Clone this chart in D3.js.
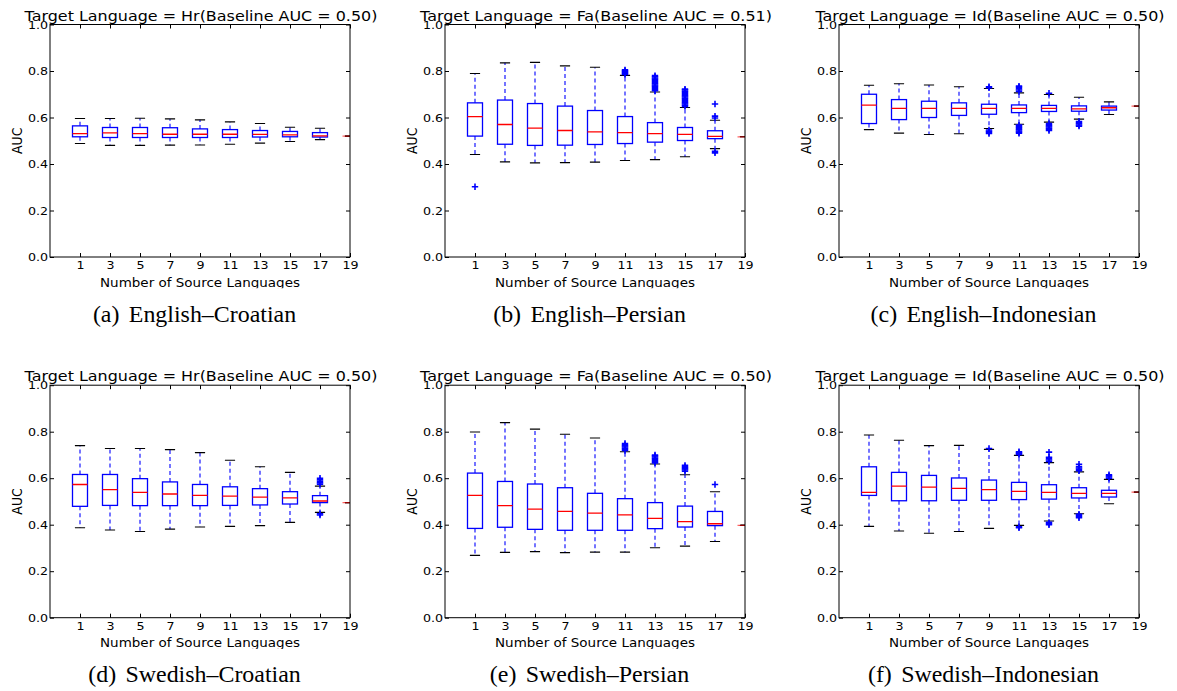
<!DOCTYPE html>
<html><head><meta charset="utf-8">
<script src="https://cdn.jsdelivr.net/npm/d3@7"></script>
<style>body{margin:0;background:#fff} svg{display:block}</style>
</head><body>
<svg id="chart" width="1177" height="691"></svg>
<script>
// ---- data ----
const positions = [1,2,3,4,5,6,7,8,9,10];
const tickLabels = ["1","3","5","7","9","11","13","15","17","19"];
const yTicks = [0,0.2,0.4,0.6,0.8,1.0];

// (a) English–Croatian
const aLo  = [0.488,0.480,0.480,0.481,0.482,0.485,0.490,0.497,0.505,0.520];
const aQ1  = [0.517,0.514,0.514,0.514,0.514,0.514,0.516,0.517,0.516,0.520];
const aMed = [0.531,0.534,0.531,0.528,0.528,0.528,0.527,0.525,0.521,0.520];
const aQ3  = [0.564,0.557,0.557,0.556,0.551,0.548,0.544,0.540,0.535,0.520];
const aHi  = [0.596,0.596,0.597,0.594,0.590,0.581,0.574,0.558,0.554,0.520];
const aFl  = [[],[],[],[],[],[],[],[],[],[]];

// (b) English–Persian
const bLo  = [0.441,0.409,0.405,0.406,0.408,0.415,0.419,0.431,0.466,0.517];
const bQ1  = [0.520,0.485,0.480,0.481,0.484,0.488,0.494,0.501,0.509,0.517];
const bMed = [0.604,0.570,0.554,0.544,0.538,0.535,0.531,0.527,0.519,0.517];
const bQ3  = [0.663,0.675,0.660,0.649,0.630,0.604,0.578,0.557,0.543,0.517];
const bHi  = [0.789,0.835,0.837,0.822,0.816,0.781,0.710,0.643,0.588,0.517];
const bFl  = [[0.302],[],[],[],[],
  [0.785,0.789,0.793,0.797,0.801,0.805],
  [0.715,0.720,0.725,0.730,0.735,0.740,0.745,0.750,0.755,0.760,0.765,0.770,0.775,0.780],
  [0.648,0.653,0.658,0.663,0.668,0.673,0.678,0.683,0.688,0.693,0.698,0.703,0.708,0.713,0.718,0.722],
  [0.598,0.606,0.658,0.455,0.448],[]];

// (c) English–Indonesian
const cLo  = [0.548,0.533,0.527,0.530,0.553,0.571,0.580,0.593,0.613,0.649];
const cQ1  = [0.574,0.591,0.600,0.609,0.614,0.621,0.626,0.627,0.632,0.649];
const cMed = [0.653,0.639,0.639,0.639,0.639,0.639,0.639,0.637,0.642,0.649];
const cQ3  = [0.700,0.677,0.670,0.663,0.657,0.654,0.652,0.650,0.649,0.649];
const cHi  = [0.739,0.745,0.740,0.732,0.725,0.706,0.699,0.687,0.667,0.649];
const cFl  = [[],[],[],[],
  [0.728,0.732,0.531,0.536,0.541,0.546],
  [0.712,0.718,0.724,0.730,0.735,0.532,0.537,0.542,0.547,0.552,0.557,0.562,0.567],
  [0.704,0.544,0.549,0.554,0.559,0.564,0.569,0.574],
  [0.563,0.568,0.573,0.578,0.583],[],[]];

// (d) Swedish–Croatian
const dLo  = [0.387,0.377,0.371,0.381,0.390,0.393,0.396,0.410,0.453,0.495];
const dQ1  = [0.479,0.483,0.482,0.482,0.482,0.483,0.485,0.489,0.495,0.495];
const dMed = [0.573,0.551,0.539,0.532,0.526,0.523,0.519,0.515,0.502,0.495];
const dQ3  = [0.616,0.616,0.598,0.584,0.573,0.563,0.555,0.542,0.525,0.495];
const dHi  = [0.740,0.728,0.728,0.723,0.710,0.677,0.649,0.625,0.566,0.495];
const dFl  = [[],[],[],[],[],[],[],[],[0.574,0.580,0.586,0.593,0.600,0.442,0.447],[]];

// (e) Swedish–Persian
const eLo  = [0.268,0.281,0.284,0.280,0.282,0.282,0.301,0.308,0.328,0.397];
const eQ1  = [0.384,0.389,0.380,0.376,0.376,0.376,0.383,0.390,0.396,0.397];
const eMed = [0.526,0.482,0.467,0.457,0.450,0.442,0.427,0.413,0.404,0.397];
const eQ3  = [0.622,0.586,0.575,0.559,0.535,0.512,0.495,0.480,0.457,0.397];
const eHi  = [0.799,0.839,0.811,0.789,0.773,0.714,0.661,0.615,0.542,0.397];
const eFl  = [[],[],[],[],[],
  [0.719,0.724,0.729,0.734,0.739,0.744,0.749],
  [0.666,0.671,0.676,0.681,0.686,0.691,0.696,0.700],
  [0.630,0.635,0.640,0.645,0.650,0.655],
  [0.573],[]];

// (f) Swedish–Indonesian
const fLo  = [0.393,0.373,0.363,0.371,0.384,0.397,0.416,0.447,0.490,0.540];
const fQ1  = [0.526,0.503,0.503,0.505,0.505,0.508,0.510,0.515,0.519,0.540];
const fMed = [0.539,0.566,0.562,0.556,0.551,0.543,0.539,0.535,0.535,0.540];
const fQ3  = [0.649,0.625,0.612,0.601,0.592,0.582,0.572,0.559,0.548,0.540];
const fHi  = [0.786,0.763,0.740,0.741,0.724,0.698,0.667,0.627,0.595,0.540];
const fFl  = [[],[],[],[],
  [0.728],
  [0.702,0.706,0.710,0.714,0.387,0.391],
  [0.672,0.678,0.684,0.690,0.712,0.400,0.405,0.410],
  [0.632,0.638,0.644,0.650,0.660,0.430,0.435,0.440,0.445],
  [0.600,0.605,0.610,0.615],[]];

const titleLangs = ["Hr","Fa","Id","Hr","Fa","Id"];
const baselines = ["0.50","0.51","0.50","0.50","0.50","0.50"];
const captionTags = ["(a)","(b)","(c)","(d)","(e)","(f)"];
const captionTexts = ["English\u2013Croatian","English\u2013Persian","English\u2013Indonesian",
                      "Swedish\u2013Croatian","Swedish\u2013Persian","Swedish\u2013Indonesian"];

const panelStats = [
  [aLo,aQ1,aMed,aQ3,aHi,aFl],[bLo,bQ1,bMed,bQ3,bHi,bFl],[cLo,cQ1,cMed,cQ3,cHi,cFl],
  [dLo,dQ1,dMed,dQ3,dHi,dFl],[eLo,eQ1,eMed,eQ3,eHi,eFl],[fLo,fQ1,fMed,fQ3,fHi,fFl]
];

// ---- layout ----
const lefts = [50,445,839];
const tops = [24.5,385.2];
const W = 300, H = 232.5;
const svg = d3.select("#chart");
const defs = svg.append("defs");
const SANS = "DejaVu Sans";

panelStats.forEach((st, p) => {
  const col = p % 3, row = Math.floor(p / 3);
  const L = lefts[col], T = tops[row], B = T + H, R = L + W;
  const cx = L + W / 2;
  const x = d3.scaleLinear().domain([0,10]).range([L,R]);
  const y = d3.scaleLinear().domain([0,1]).range([B,T]);
  const g = svg.append("g");

  const clipId = "clip" + p;
  defs.append("clipPath").attr("id", clipId).append("rect")
    .attr("x", L).attr("y", T).attr("width", W).attr("height", H);
  const xlClip = "xlclip" + p;
  defs.append("clipPath").attr("id", xlClip).append("rect")
    .attr("x", L - 20).attr("y", B + 14).attr("width", W + 40).attr("height", 17.3);

  // axes (ticks inward on all four sides)
  const ax = d3.axisBottom(x).tickValues(positions).tickFormat((d,i)=>tickLabels[i])
    .tickSizeInner(-4).tickSizeOuter(0).tickPadding(4.6);
  const gx = g.append("g").attr("transform", `translate(0,${B})`).call(ax);
  const axT = d3.axisTop(x).tickValues(positions).tickFormat("").tickSizeInner(-4).tickSizeOuter(0);
  const gxt = g.append("g").attr("transform", `translate(0,${T})`).call(axT);
  const ay = d3.axisLeft(y).tickValues(yTicks).tickFormat(d3.format(".1f"))
    .tickSizeInner(-4).tickSizeOuter(0).tickPadding(1.6);
  const gy = g.append("g").attr("transform", `translate(${L},0)`).call(ay);
  const ayR = d3.axisRight(y).tickValues(yTicks).tickFormat("").tickSizeInner(-4).tickSizeOuter(0);
  const gyr = g.append("g").attr("transform", `translate(${R},0)`).call(ayR);
  [gx,gxt,gy,gyr].forEach(a => {
    a.select(".domain").remove();
    a.selectAll(".tick line").attr("stroke","#000").attr("stroke-width",1);
  });
  [gx,gy].forEach(a => a.selectAll("text")
    .attr("font-family", SANS).attr("font-size", 11).attr("fill","#000")
    .attr("transform","scale(1.15,1)"));

  // plot contents
  const pc = g.append("g").attr("clip-path", `url(#${clipId})`);
  const [lo,q1,med,q3,hi,fl] = st;
  const hw = 0.25, cw = 0.17;
  positions.forEach((pos, i) => {
    // whiskers
    pc.append("line").attr("x1",x(pos)).attr("x2",x(pos)).attr("y1",y(q3[i])).attr("y2",y(hi[i]))
      .attr("stroke","#0000ff").attr("stroke-width",1.1).attr("stroke-dasharray","4,3");
    pc.append("line").attr("x1",x(pos)).attr("x2",x(pos)).attr("y1",y(q1[i])).attr("y2",y(lo[i]))
      .attr("stroke","#0000ff").attr("stroke-width",1.1).attr("stroke-dasharray","4,3");
    // caps
    [lo[i],hi[i]].forEach(v => pc.append("line")
      .attr("x1",x(pos-cw)).attr("x2",x(pos+cw)).attr("y1",y(v)).attr("y2",y(v))
      .attr("stroke","#000").attr("stroke-width",1.1));
    // box
    pc.append("rect").attr("x",x(pos-hw)).attr("y",y(q3[i]))
      .attr("width",x(pos+hw)-x(pos-hw)).attr("height",Math.max(0,y(q1[i])-y(q3[i])))
      .attr("fill","none").attr("stroke","#0000ff").attr("stroke-width",1.3);
    // median
    const flat = q1[i] === q3[i];
    pc.append("line").attr("x1",x(pos-hw)).attr("x2",x(pos+hw)).attr("y1",y(med[i])).attr("y2",y(med[i]))
      .attr("stroke","#ff0000").attr("stroke-width",1.3).attr("stroke-opacity", flat ? 0.6 : 1);
    // fliers
    fl[i].forEach(v => pc.append("path")
      .attr("transform",`translate(${x(pos)},${y(v)})`)
      .attr("d","M-3.2,0H3.2M0,-3.2V3.2")
      .attr("stroke","#0000ff").attr("stroke-width",1.6).attr("fill","none"));
  });

  // frame
  g.append("rect").attr("x",L).attr("y",T).attr("width",W).attr("height",H)
    .attr("fill","none").attr("stroke","#000").attr("stroke-width",1);

  // title
  g.append("text").attr("transform",`translate(${cx+1},${T-4}) scale(1.1,1)`)
    .attr("text-anchor","middle").attr("font-family",SANS).attr("font-size",14.5).attr("fill","#000")
    .text(`Target Language = ${titleLangs[p]}(Baseline AUC = ${baselines[p]})`);

  // y label
  g.append("text").attr("transform",`translate(${L-28.3},${(T+B)/2}) scale(1.1,1) rotate(-90)`)
    .attr("text-anchor","middle").attr("font-family",SANS).attr("font-size",12.5).attr("fill","#000")
    .text("AUC");

  // x label (clipped at bottom like the reference)
  g.append("g").attr("clip-path",`url(#${xlClip})`)
    .append("text").attr("transform",`translate(${cx},${B+29.7}) scale(1.08,1)`)
    .attr("text-anchor","middle").attr("font-family",SANS).attr("font-size",12.5).attr("fill","#000")
    .text("Number of Source Languages");

  // caption
  const cap = g.append("text").attr("transform",`translate(${cx-5.5},${B+64.7}) scale(1.04,1)`)
    .attr("text-anchor","middle").attr("font-family","Liberation Serif").attr("font-size",23).attr("fill","#000");
  cap.append("tspan").text(captionTags[p]);
  cap.append("tspan").attr("dx",9).text(captionTexts[p]);
});
</script>
</body></html>
